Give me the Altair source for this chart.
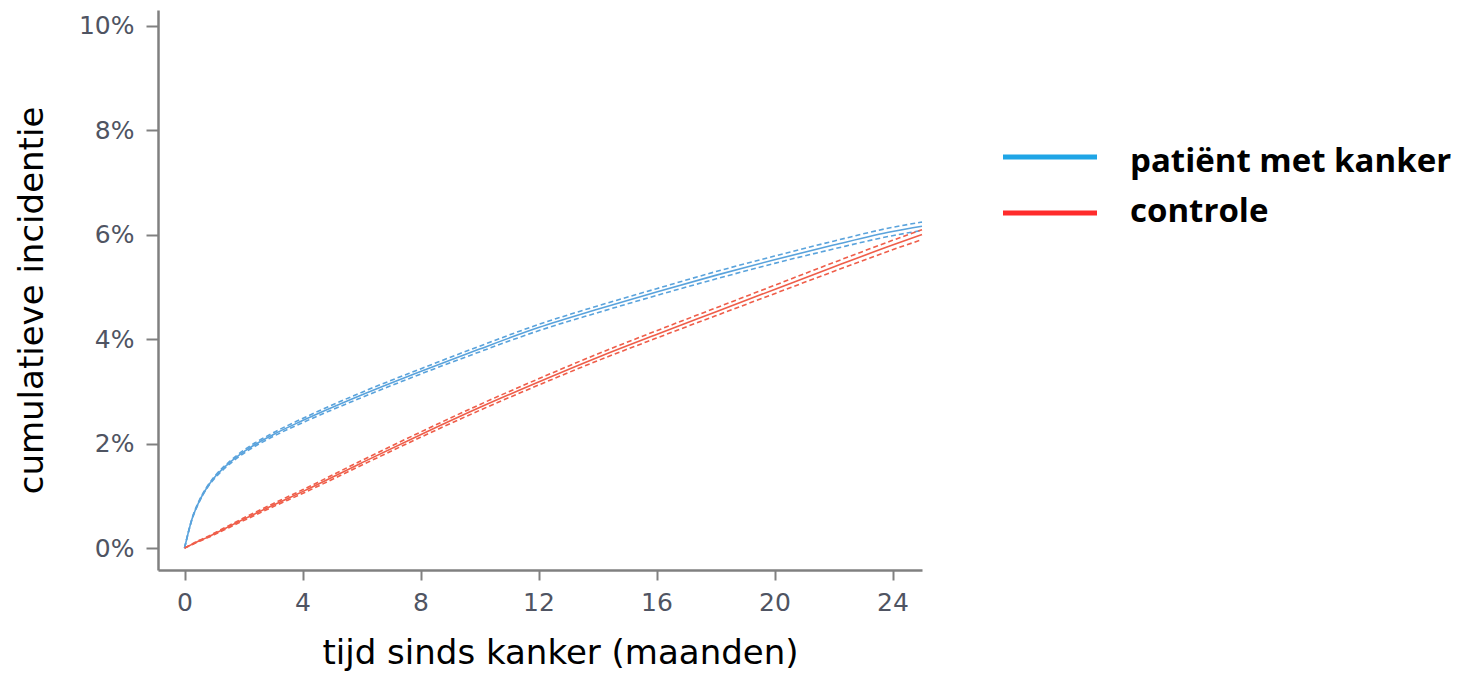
import altair as alt
import pandas as pd

# ---- data ----
months = [0, 0.25, 0.5, 0.75, 1, 1.5, 2, 3, 4, 6, 8, 10, 12, 14, 16, 18, 20, 22, 24, 25]
blue_mid = [0, 0.55, 0.9, 1.15, 1.34, 1.62, 1.84, 2.17, 2.44, 2.93, 3.38, 3.81, 4.22, 4.57, 4.9, 5.22, 5.52, 5.8, 6.06, 6.16]
blue_lo = [0, 0.54, 0.885, 1.135, 1.32, 1.595, 1.81, 2.135, 2.40, 2.88, 3.33, 3.755, 4.16, 4.505, 4.835, 5.15, 5.45, 5.725, 5.98, 6.08]
blue_hi = [0, 0.56, 0.915, 1.165, 1.36, 1.645, 1.87, 2.205, 2.48, 2.98, 3.43, 3.865, 4.28, 4.635, 4.965, 5.29, 5.59, 5.875, 6.14, 6.24]
red_mid = [0, 0.07, 0.14, 0.2, 0.27, 0.41, 0.55, 0.82, 1.08, 1.63, 2.17, 2.69, 3.18, 3.65, 4.09, 4.52, 4.95, 5.38, 5.8, 6.0]
red_lo = [0, 0.065, 0.13, 0.19, 0.255, 0.39, 0.525, 0.79, 1.045, 1.585, 2.12, 2.635, 3.12, 3.585, 4.02, 4.445, 4.87, 5.295, 5.71, 5.905]
red_hi = [0, 0.075, 0.15, 0.21, 0.285, 0.43, 0.575, 0.85, 1.115, 1.675, 2.22, 2.745, 3.24, 3.715, 4.16, 4.595, 5.03, 5.465, 5.89, 6.095]

series_names = ["patiënt met kanker", "controle"]
x_ticks = [0, 4, 8, 12, 16, 20, 24]
y_ticks = [0, 2, 4, 6, 8, 10]

BLUE = "#5aa3dc"
RED = "#ef5e4a"
LEG_BLUE = "#1fa5e6"
LEG_RED = "#ff2b2b"

rows = []
for name, mid, lo, hi in [(series_names[0], blue_mid, blue_lo, blue_hi),
                          (series_names[1], red_mid, red_lo, red_hi)]:
    for m, a, b, c in zip(months, mid, lo, hi):
        rows.append({"month": m, "series": name, "band": "mid", "value": a})
        rows.append({"month": m, "series": name, "band": "lo", "value": b})
        rows.append({"month": m, "series": name, "band": "hi", "value": c})
df = pd.DataFrame(rows)

xs = alt.Scale(domain=[-0.9, 25], nice=False, zero=False)
ys = alt.Scale(domain=[-0.42, 10.3], nice=False, zero=False)
cs = alt.Scale(domain=series_names, range=[BLUE, RED])

x_enc = alt.X("month:Q", scale=xs, axis=alt.Axis(
    values=x_ticks, grid=False, tickSize=10, labelPadding=10,
    title="tijd sinds kanker (maanden)", titleX=402, titleY=66))
y_enc = alt.Y("value:Q", scale=ys, axis=alt.Axis(
    values=y_ticks, grid=False, tickSize=12, labelPadding=12,
    labelExpr="datum.value + '%'",
    title="cumulatieve incidentie", titleX=-109, titleY=290))

mid = alt.Chart(df).transform_filter(alt.datum.band == "mid").mark_line(
    strokeWidth=1.6, interpolate="monotone").encode(
    x=x_enc, y=y_enc, color=alt.Color("series:N", scale=cs, legend=None),
    detail="series:N")

ci = alt.Chart(df).transform_filter(alt.datum.band != "mid").mark_line(
    strokeWidth=1.6, strokeDash=[5, 3], interpolate="monotone").encode(
    x=x_enc, y=y_enc, color=alt.Color("series:N", scale=cs, legend=None),
    detail="band:N")

leg1 = pd.DataFrame({"label": [series_names[0]]})
leg2 = pd.DataFrame({"label": [series_names[1]]})

line1 = alt.Chart(leg1).mark_rule(color=LEG_BLUE, strokeWidth=5).encode(
    x=alt.value(845), x2=alt.value(939), y=alt.value(147))
line2 = alt.Chart(leg2).mark_rule(color=LEG_RED, strokeWidth=5).encode(
    x=alt.value(845), x2=alt.value(939), y=alt.value(203))
txt1 = alt.Chart(leg1).mark_text(font="Open Sans", fontSize=33, fontWeight="bold",
                                 align="left", baseline="alphabetic", color="black").encode(
    x=alt.value(972), y=alt.value(162), text="label:N")
txt2 = alt.Chart(leg2).mark_text(font="Open Sans", fontSize=33, fontWeight="bold",
                                 align="left", baseline="alphabetic", color="black").encode(
    x=alt.value(972), y=alt.value(212), text="label:N")

chart = alt.layer(ci, mid, line1, line2, txt1, txt2).properties(
    width=764, height=560,
    padding={"left": 150, "top": 2, "right": 546, "bottom": 105},
    autosize=alt.AutoSizeParams(type="none"),
).configure_view(stroke=None).configure_axis(
    domainColor="#808080", domainWidth=2.5, tickColor="#808080", tickWidth=2,
    labelFont="DejaVu Sans", labelFontSize=25, labelColor="#4f5462",
    titleFont="DejaVu Sans", titleFontSize=34, titleFontWeight="normal", titleColor="black",
)

chart.save("out.html", embed_options={"renderer": "svg", "actions": False})
